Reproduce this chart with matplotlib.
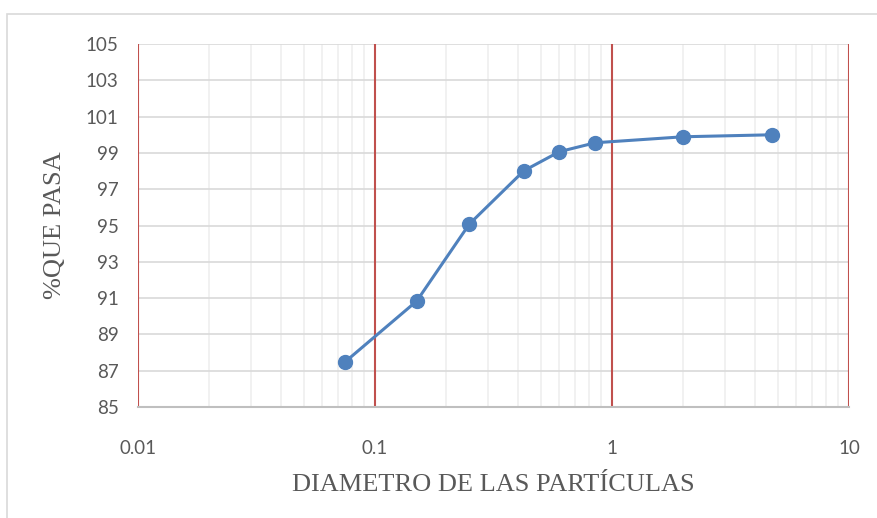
"""Grain size distribution curve (curva granulometrica) on a log axis."""

import matplotlib
matplotlib.use("Agg")
import matplotlib.pyplot as plt
import matplotlib.ticker as ticker
from matplotlib.patches import Rectangle

# sieve openings (mm) and percent passing
diametro = [0.075, 0.15, 0.25, 0.425, 0.6, 0.85, 2.0, 4.75]
pasa = [87.5, 90.84, 95.08, 98.02, 99.07, 99.56, 99.89, 100.0]

x_ticks = [0.01, 0.1, 1, 10]
x_labels = ["0.01", "0.1", "1", "10"]
y_ticks = list(range(85, 106, 2))

TICK_GRAY = "#595959"
BLUE = "#4f81bd"
RED = "#c0504d"


def main():
    fig = plt.figure(figsize=(8.78, 5.18), dpi=100)
    fig.patches.append(Rectangle((7 / 878, -0.1), 1.2, 1 - 14 / 518 + 0.1,
                                 transform=fig.transFigure, fill=False,
                                 edgecolor="#d9d9d9", linewidth=1.2))

    ax = fig.add_axes([0.1572, 0.2143, 0.8098, 0.7007])
    ax.set_xscale("log")
    ax.set_xlim(0.01, 10)
    ax.set_ylim(85, 105)

    # grid: light minor verticals, gray horizontals, red decade lines
    ax.xaxis.set_minor_locator(ticker.LogLocator(base=10, subs=range(2, 10)))
    ax.xaxis.set_minor_formatter(ticker.NullFormatter())
    ax.grid(which="minor", axis="x", color="#efefef", linewidth=1.2)
    ax.grid(which="major", axis="y", color="#d9d9d9", linewidth=1.2)
    for v in x_ticks:
        ax.axvline(v, color=RED, linewidth=1.5, zorder=1.5)
    ax.set_axisbelow(True)

    ax.plot(diametro, pasa, color=BLUE, linewidth=2.2, marker="o",
            markersize=10, zorder=3, clip_on=False)

    ax.set_xticks(x_ticks)
    ax.set_xticklabels(x_labels)
    ax.set_yticks(y_ticks)
    ax.tick_params(axis="both", which="both", length=0, labelsize=13.5,
                   labelcolor=TICK_GRAY)
    ax.tick_params(axis="x", pad=24)
    ax.tick_params(axis="y", pad=14)
    for lbl in ax.get_xticklabels() + ax.get_yticklabels():
        lbl.set_fontfamily("Lato")

    for side in ["top", "right", "left"]:
        ax.spines[side].set_visible(False)
    ax.spines["bottom"].set_color("#bfbfbf")
    ax.spines["bottom"].set_linewidth(1.5)

    ax.set_xlabel("DIAMETRO DE LAS PARTÍCULAS", fontfamily="Liberation Serif",
                  fontsize=19, color=TICK_GRAY, labelpad=12)
    ax.set_ylabel("%QUE PASA", fontfamily="Liberation Serif",
                  fontsize=19, color=TICK_GRAY, labelpad=14)

    fig.savefig("out.png", dpi=100)


if __name__ == "__main__":
    main()
